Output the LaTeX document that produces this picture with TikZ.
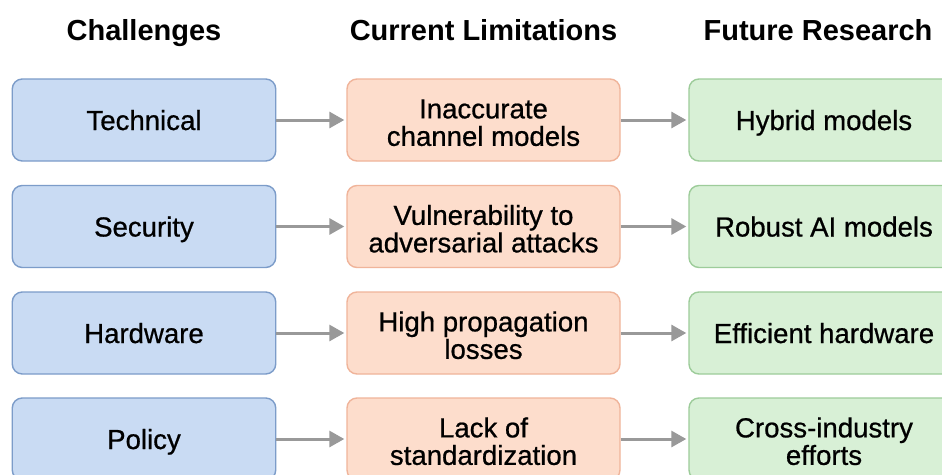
\documentclass[tikz,border=0pt]{standalone}
\usepackage{fontspec}
\setmainfont{Liberation Sans}
\newfontfamily\medfont[FakeBold=0.7]{Liberation Sans}
\usetikzlibrary{arrows.meta}
\definecolor{bfill}{HTML}{C9DBF3}
\definecolor{bdraw}{HTML}{7C9CC9}
\definecolor{ofill}{HTML}{FDDDCC}
\definecolor{odraw}{HTML}{F0B49A}
\definecolor{gfill}{HTML}{D8F0D6}
\definecolor{gdraw}{HTML}{9DCC9A}
\definecolor{agray}{HTML}{999999}
\newcommand{\nd}[1]{\raisebox{0pt}[\height][0pt]{#1}}
\newcommand{\tl}{\rule{0pt}{24.5pt}}
\tikzset{
  box/.style={rounded corners=10pt, line width=1.4pt, minimum height=82pt, inner sep=0pt,
    align=center, font=\medfont\fontsize{27.6}{27.5}\selectfont},
  bluebox/.style={box, fill=bfill, draw=bdraw, minimum width=263.5pt},
  orangebox/.style={box, fill=ofill, draw=odraw, minimum width=273pt},
  greenbox/.style={box, fill=gfill, draw=gdraw, minimum width=270pt},
  head/.style={anchor=base, font=\fontsize{29}{30}\selectfont\bfseries},
  conn/.style={draw=agray, line width=3pt, -{Triangle[length=15pt,width=16pt]}, shorten >=2pt}
}
\begin{document}
\begin{tikzpicture}[x=1pt,y=1pt]
\useasboundingbox (0,0) rectangle (942,-474);
\clip (0,0) rectangle (942,-474);
\fill[white] (0,0) rectangle (942,-474);
\node[head] (h1) at (144,-40) {Challenges};
\node[head] (h2) at (483.5,-40) {Current Limitations};
\node[head] (h3) at (818,-40) {Future Research};

\node[bluebox] (c1) at (144,-120) {\nd{Technical}};
\node[bluebox] (c2) at (144,-226.5) {\nd{Security}};
\node[bluebox] (c3) at (144,-333) {\nd{Hardware}};
\node[bluebox] (c4) at (144,-439) {\nd{Policy}};

\node[orangebox] (l1) at (483.5,-120) {\tl Inaccurate\\channel models};
\node[orangebox] (l2) at (483.5,-226.5) {\tl Vulnerability to\\adversarial attacks};
\node[orangebox] (l3) at (483.5,-333) {\tl High propagation\\losses};
\node[orangebox] (l4) at (483.5,-439) {\tl Lack of\\standardization};

\node[greenbox] (f1) at (824,-120) {\nd{Hybrid models}};
\node[greenbox] (f2) at (824,-226.5) {\nd{Robust AI models}};
\node[greenbox] (f3) at (824,-333) {\nd{Efficient hardware}};
\node[greenbox] (f4) at (824,-439) {\tl Cross-industry\\efforts};

\foreach \i in {1,2,3,4}{
  \draw[conn] (c\i) -- (l\i);
  \draw[conn] (l\i) -- (f\i);
}
\end{tikzpicture}
\end{document}
